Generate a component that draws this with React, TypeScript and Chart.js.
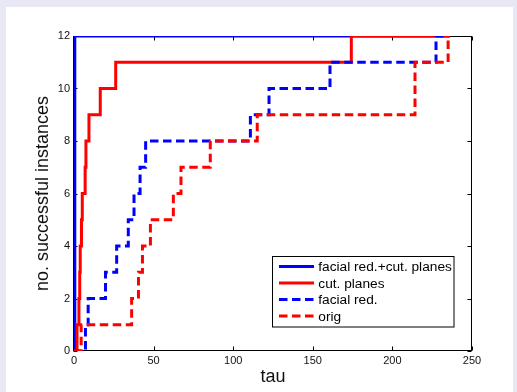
import React, { useEffect, useRef } from "react";
import { Chart, registerables } from "chart.js";

Chart.register(...registerables);

// ---- data ----
const xTicks = [0, 50, 100, 150, 200, 250];
const yTicks = [0, 2, 4, 6, 8, 10, 12];

const seriesNames = ["facial red.+cut. planes", "cut. planes", "facial red.", "orig"];

const frCpTau = [0, 0.5, 236];
const frCpVal = [0, 12, 12];

const cpTau = [0, 1.9, 3.1, 3.6, 3.9, 4.7, 5.2, 7.0, 7.5, 9.4, 16.5, 26.2, 174.2, 236];
const cpVal = [0, 1, 2, 3, 4, 5, 6, 7, 8, 9, 10, 11, 12, 12];

const frTau = [0, 7.2, 8.9, 19.8, 26.8, 34.1, 37.7, 41.5, 45.0, 110.8, 122.5, 160.8, 227.4, 234];
const frVal = [0, 1, 2, 3, 4, 5, 6, 7, 8, 9, 10, 11, 12, 12];

const origTau = [0, 4.5, 36.2, 40.5, 43.0, 48.0, 62.4, 67.2, 85.6, 115.1, 214.2, 235.0, 236];
const origVal = [0, 1, 2, 3, 4, 5, 6, 7, 8, 9, 11, 12, 12];

const FONT = "'Liberation Sans', Arial, Helvetica, sans-serif";
const BLUE = "#0000ff";
const RED = "#ff0000";
const DASH = [8.5, 4.5];

const toPts = (xs: number[], ys: number[]) => xs.map((x, i) => ({ x, y: ys[i] }));

const styles = [
  { color: BLUE, dash: [] as number[] },
  { color: RED, dash: [] as number[] },
  { color: BLUE, dash: DASH },
  { color: RED, dash: DASH },
];

const axesBox = {
  id: "axesBox",
  beforeDatasetsDraw(chart: any) {
    const { ctx, chartArea: a, scales } = chart;
    ctx.save();
    ctx.strokeStyle = "#000";
    ctx.lineWidth = 1;
    const L = Math.round(a.left) - 0.5;
    const R = Math.round(a.right) - 0.5;
    const T = Math.round(a.top) + 0.5;
    const B = Math.round(a.bottom) - 0.5;
    ctx.strokeRect(L, T, R - L, B - T);
    ctx.beginPath();
    const tl = 4;
    scales.x.ticks.forEach((t: any) => {
      const px = Math.round(scales.x.getPixelForValue(t.value)) + 0.5;
      ctx.moveTo(px, B);
      ctx.lineTo(px, B - tl);
      ctx.moveTo(px, T);
      ctx.lineTo(px, T + tl);
    });
    scales.y.ticks.forEach((t: any) => {
      const py = Math.round(scales.y.getPixelForValue(t.value)) + 0.5;
      ctx.moveTo(L, py);
      ctx.lineTo(L + tl, py);
      ctx.moveTo(R, py);
      ctx.lineTo(R - tl, py);
    });
    ctx.stroke();
    ctx.restore();
  },
};

const boxLegend = {
  id: "boxLegend",
  afterDraw(chart: any) {
    const { ctx } = chart;
    const bx = 272.5, by = 256.5, bw = 181.5, bh = 70.5;
    ctx.save();
    ctx.fillStyle = "#fff";
    ctx.fillRect(bx, by, bw, bh);
    ctx.strokeStyle = "#000";
    ctx.lineWidth = 1;
    ctx.strokeRect(bx, by, bw, bh);
    const rows = [266.5, 283, 299.5, 316];
    seriesNames.forEach((name, i) => {
      const y = rows[i];
      ctx.beginPath();
      ctx.strokeStyle = styles[i].color;
      ctx.lineWidth = 2.8;
      ctx.setLineDash(styles[i].dash);
      ctx.moveTo(279, y);
      ctx.lineTo(314, y);
      ctx.stroke();
      ctx.setLineDash([]);
      ctx.fillStyle = "#000";
      ctx.font = `13.7px ${FONT}`;
      ctx.textAlign = "left";
      ctx.textBaseline = "alphabetic";
      ctx.fillText(name, 318.3, y + 4.5);
    });
    ctx.restore();
  },
};

export default function App() {
  const ref = useRef<HTMLCanvasElement | null>(null);

  useEffect(() => {
    if (!ref.current) return;
    const seriesPts = [
      toPts(frCpTau, frCpVal),
      toPts(cpTau, cpVal),
      toPts(frTau, frVal),
      toPts(origTau, origVal),
    ];
    const chart = new Chart(ref.current, {
      type: "line",
      data: {
        datasets: seriesPts.map((pts, i) => ({
          label: seriesNames[i],
          data: pts,
          borderColor: styles[i].color,
          backgroundColor: styles[i].color,
          borderWidth: 3,
          borderDash: styles[i].dash,
          pointRadius: 0,
          stepped: "before" as const,
          fill: false,
          order: 3 - i,
        })),
      },
      options: {
        animation: false,
        responsive: false,
        devicePixelRatio: 1,
        layout: { padding: { left: 0, top: 36, right: 45, bottom: 0 } },
        plugins: {
          legend: { display: false },
          tooltip: { enabled: false },
        },
        scales: {
          x: {
            type: "linear",
            min: 0,
            max: 250,
            afterBuildTicks: (s: any) => {
              s.ticks = xTicks.map((v) => ({ value: v }));
            },
            afterFit: (s: any) => {
              s.height = 41;
            },
            grid: { display: false, drawTicks: false },
            border: { display: false },
            ticks: {
              padding: 3,
              color: "#111",
              font: { size: 11, family: FONT },
              maxRotation: 0,
              autoSkip: false,
            },
            title: {
              display: true,
              text: "tau",
              color: "#111",
              font: { size: 18, family: FONT },
              padding: { top: 0, bottom: 4.2 },
            },
          },
          y: {
            type: "linear",
            min: 0,
            max: 12,
            afterBuildTicks: (s: any) => {
              s.ticks = yTicks.map((v) => ({ value: v }));
            },
            afterFit: (s: any) => {
              s.width = 74;
            },
            grid: { display: false, drawTicks: false },
            border: { display: false },
            ticks: {
              padding: 4,
              color: "#111",
              font: { size: 11, family: FONT },
              autoSkip: false,
            },
            title: {
              display: true,
              text: "no. successful instances",
              color: "#111",
              font: { size: 18, family: FONT },
              padding: { top: 32.2, bottom: 0 },
            },
          },
        },
      },
      plugins: [axesBox, boxLegend],
    });
    return () => chart.destroy();
  }, []);

  return (
    <div
      style={{
        position: "fixed",
        left: 0,
        top: 0,
        width: 517,
        height: 392,
        background: "#e8e8f4",
        overflow: "hidden",
      }}
    >
      <div
        style={{
          position: "absolute",
          left: 6,
          top: 7,
          width: 507,
          height: 385,
          background: "#ffffff",
        }}
      />
      <canvas
        ref={ref}
        width={517}
        height={392}
        style={{ position: "absolute", left: 0, top: 0, width: 517, height: 392 }}
      />
    </div>
  );
}
